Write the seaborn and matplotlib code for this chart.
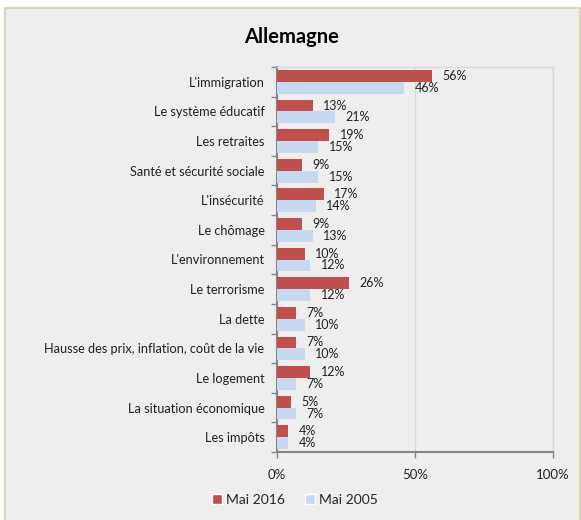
import pandas as pd
import numpy as np
import matplotlib
matplotlib.use('Agg')
import matplotlib.pyplot as plt
import matplotlib.patches as mpatches
import seaborn as sns

# Data (percent)
categories = ["L'immigration", "Le système éducatif", "Les retraites",
              "Santé et sécurité sociale", "L'insécurité", "Le chômage",
              "L'environnement", "Le terrorisme", "La dette",
              "Hausse des prix, inflation, coût de la vie", "Le logement",
              "La situation économique", "Les impôts"]
mai_2016 = [56, 13, 19, 9, 17, 9, 10, 26, 7, 7, 12, 5, 4]
mai_2005 = [46, 21, 15, 15, 14, 13, 12, 12, 10, 10, 7, 7, 4]
series = ["Mai 2016", "Mai 2005"]
x_ticks = [0, 50, 100]
x_tick_labels = ["0%", "50%", "100%"]

df = pd.DataFrame({"theme": categories * 2,
                   "valeur": mai_2016 + mai_2005,
                   "serie": [series[0]] * len(categories) + [series[1]] * len(categories)})

sns.set_theme(style="white")
plt.rcParams['font.family'] = ['Lato', 'DejaVu Sans']

colors = {"Mai 2016": "#C0504D", "Mai 2005": "#C6D9F1"}
bg = "#EEEEEE"

fig = plt.figure(figsize=(5.81, 5.2), dpi=100)
fig.patch.set_facecolor("white")

# outer chart frame
frame = mpatches.Rectangle((5 / 581, -0.02), 575 / 581, 1 - 8 / 520 + 0.02,
                           transform=fig.transFigure, facecolor=bg,
                           edgecolor="#D6CFA6", linewidth=1.2, zorder=-1)
fig.patches.append(frame)

ax = fig.add_axes([277 / 581, 1 - 452 / 520, 276 / 581, 385 / 520])
ax.set_facecolor(bg)

sns.barplot(data=df, y="theme", x="valeur", hue="serie", orient="h",
            palette=colors, width=0.8, ax=ax, legend=False, zorder=3,
            linewidth=0, saturation=1)

for cont in ax.containers:
    ax.bar_label(cont, fmt="%d%%", padding=7.5, fontsize=9, color="#222222")

ax.set_xlim(0, 100)
ax.set_ylim(len(categories) - 0.5, -0.5)
ax.set_xticks(x_ticks)
ax.set_xticklabels(x_tick_labels, fontsize=9.5, color="#222222")
ax.set_xlabel("")
ax.set_ylabel("")
ax.tick_params(axis="y", length=0, pad=9, labelsize=9.2, labelcolor="#222222")
ax.tick_params(axis="x", length=4, width=1, color="#868686", pad=8, bottom=True, direction="out")
ax.set_yticks(np.arange(-0.5, len(categories) + 0.5, 1), minor=True)
ax.tick_params(axis="y", which="minor", length=4, width=1, color="#868686", left=True, direction="out")

ax.grid(axis="x", color="#D9D9D9", linewidth=1, zorder=0)
ax.grid(axis="y", visible=False)
for side in ["left", "bottom"]:
    ax.spines[side].set_color("#868686")
    ax.spines[side].set_linewidth(1.5)
for side in ["top", "right"]:
    ax.spines[side].set_color("#D9D9D9")
    ax.spines[side].set_linewidth(1)

fig.text(292 / 581, 1 - 37 / 520, "Allemagne", ha="center", va="center",
         fontsize=14.5, fontweight="bold", color="black")

handles = [mpatches.Patch(facecolor=colors[s], label=s) for s in series]
fig.legend(handles=handles, loc="center", bbox_to_anchor=(295 / 581, 1 - 500 / 520),
           ncol=2, frameon=False, fontsize=10, handlelength=0.75, handleheight=0.75,
           handletextpad=0.3, columnspacing=1.4)

fig.savefig("out.png", dpi=100, facecolor=fig.get_facecolor())
